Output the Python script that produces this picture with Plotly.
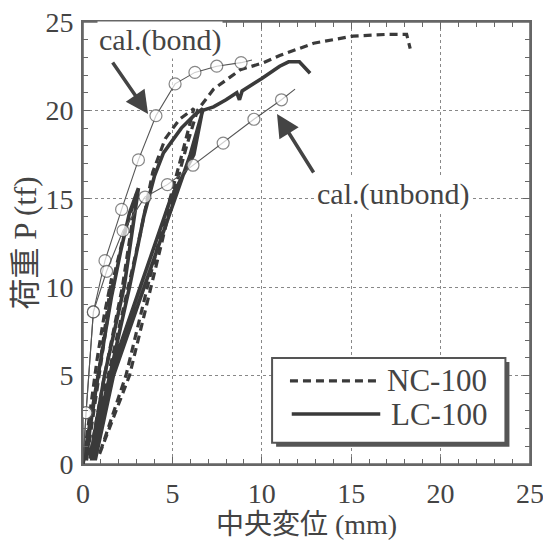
import plotly.graph_objects as go

# ---------------- data ----------------
# NC-100 (experimental, dashed) – cyclic load path
nc_x = [0, 0.4, 0.8, 1.2, 1.6, 1.0, 0.4, 0.2, 0.9, 1.7, 2.3, 3.0, 2.2, 1.2, 0.4,
        1.4, 2.5, 3.2, 3.9, 4.6, 5.4, 6.2, 5.4, 4.6, 3.6, 2.4, 0.9,
        2.6, 3.8, 5.0, 5.8, 6.4, 7.3, 8.8, 10.1, 11.0, 12.9, 15.1, 17.0, 18.1, 18.3]
nc_y = [0, 3.0, 6.0, 8.5, 10.5, 6.0, 2.0, 0.2, 5.0, 10.5, 13.0, 15.3, 10.0, 5.0, 0.5,
        5.0, 10.0, 13.0, 16.5, 18.4, 19.5, 20.1, 17.0, 14.0, 10.0, 5.0, 0.5,
        5.0, 10.0, 15.0, 18.0, 20.0, 21.2, 22.3, 22.7, 23.1, 23.8, 24.2, 24.3, 24.3, 23.5]

# LC-100 (experimental, solid) – cyclic load path
lc_x = [0, 0.5, 1.0, 1.6, 2.1, 2.6, 3.1, 2.3, 1.2, 0.4,
        1.5, 2.6, 3.4, 4.0, 4.5, 5.5, 6.2, 6.7, 6.2, 4.9, 3.2, 1.5, 0.5,
        0.7, 1.7, 3.4, 5.1, 6.0, 6.7, 7.3, 8.0, 8.6, 8.75, 8.9, 10.0, 11.0, 11.5, 12.1, 12.7]
lc_y = [0, 3.0, 6.0, 9.5, 12.0, 14.2, 15.6, 10.0, 5.0, 0.3,
        5.0, 10.0, 14.0, 16.3, 17.6, 19.0, 19.7, 20.1, 17.5, 15.0, 10.0, 5.0, 0.3,
        0.3, 5.0, 10.0, 15.0, 17.5, 20.0, 20.2, 20.6, 21.0, 20.6, 21.1, 21.8, 22.5, 22.75, 22.75, 22.1]

# calculation (bond) – circles on computed points, line runs to the last value
bond_x = [0, 0.17, 0.58, 1.23, 2.16, 3.1, 4.08, 5.15, 6.26, 7.48, 8.84, 9.45]
bond_y = [0, 2.9, 8.6, 11.5, 14.4, 17.2, 19.7, 21.5, 22.15, 22.5, 22.7, 22.85]
bond_marked = [False, True, True, True, True, True, True, True, True, True, True, False]

# calculation (unbond)
unbond_x = [0, 0.17, 0.58, 1.32, 2.24, 3.47, 4.72, 6.15, 7.84, 9.56, 11.1, 11.86]
unbond_y = [0, 2.9, 8.6, 10.9, 13.2, 15.1, 15.8, 16.9, 18.15, 19.5, 20.6, 21.2]
unbond_marked = [False, True, True, True, True, True, True, True, True, True, True, False]

tick_vals = [0, 5, 10, 15, 20, 25]
tick_text = ["0", "5", "10", "15", "20", "25"]
series_names = ["NC-100", "LC-100"]
x_title = "中央変位 (mm)"
y_title = "荷重 P (tf)"
bond_label = "cal.(bond)"
unbond_label = "cal.(unbond)"

# ---------------- style ----------------
INK = "#3a3a3a"
AXIS = "#666666"
TXT = "#444444"
FONT = "'Liberation Serif', 'Times New Roman', 'Noto Sans CJK JP', serif"

fig = go.Figure()

fig.add_trace(go.Scatter(x=nc_x, y=nc_y, mode="lines", name=series_names[0],
                         line=dict(color=INK, width=3.2, dash="8px,5px"),
                         showlegend=False))
fig.add_trace(go.Scatter(x=lc_x, y=lc_y, mode="lines", name=series_names[1],
                         line=dict(color=INK, width=3.6),
                         showlegend=False))

for xs, ys, marked, nm in [(bond_x, bond_y, bond_marked, bond_label),
                           (unbond_x, unbond_y, unbond_marked, unbond_label)]:
    fig.add_trace(go.Scatter(
        x=xs, y=ys, mode="lines+markers", name=nm, showlegend=False,
        line=dict(color="#555555", width=1.1),
        marker=dict(size=[12 if m else 0 for m in marked], color="white",
                    line=dict(color="#555555", width=1.2))))

# ---------------- axes ----------------
common = dict(range=[0, 25], tickvals=tick_vals, ticktext=tick_text,
              ticks="inside", ticklen=7, tickcolor=AXIS, tickwidth=1,
              showline=True, linecolor=AXIS, linewidth=1.6, mirror="ticks",
              showgrid=True, gridcolor="#888888", griddash="dot", gridwidth=1,
              zeroline=False, automargin=False, ticklabeloverflow="allow",
              tickfont=dict(family=FONT, size=28, color=TXT),
              minor=dict(dtick=1, ticks="inside", ticklen=5, tickcolor=AXIS,
                         tickwidth=1, showgrid=False))

fig.update_xaxes(**common, ticklabelstandoff=4,
                 title=dict(text=x_title, standoff=0,
                            font=dict(family=FONT, size=28, color=TXT)))
fig.update_yaxes(**common, ticklabelstandoff=2,
                 title=dict(text=y_title, standoff=6,
                            font=dict(family=FONT, size=31, color=TXT)))

# frame around the plotting area
fig.add_shape(type="rect", xref="paper", yref="paper", x0=0, x1=1, y0=0, y1=1,
              line=dict(color=AXIS, width=1.6), layer="below")

# ---------------- annotations: labels and arrows ----------------
fig.add_annotation(x=4.3, y=24.0, text=bond_label, showarrow=False,
                   font=dict(family=FONT, size=30, color=TXT),
                   bgcolor="white")
fig.add_annotation(x=17.35, y=15.3, text=unbond_label, showarrow=False,
                   font=dict(family=FONT, size=30, color=TXT),
                   bgcolor="white")
fig.add_annotation(x=3.64, y=19.8, ax=1.6, ay=22.8, xref="x", yref="y",
                   axref="x", ayref="y", text="", showarrow=True,
                   arrowhead=2, arrowsize=1.3, arrowwidth=3.5, arrowcolor=TXT)
fig.add_annotation(x=10.85, y=19.8, ax=12.95, ay=16.4, xref="x", yref="y",
                   axref="x", ayref="y", text="", showarrow=True,
                   arrowhead=2, arrowsize=1.3, arrowwidth=3.5, arrowcolor=TXT)

# ---------------- legend box (drawn) ----------------
bx0, bx1, by0, by1 = 0.423, 0.945, 0.048, 0.240
fig.add_shape(type="rect", xref="paper", yref="paper",
              x0=bx0 + 0.009, x1=bx1 + 0.009, y0=by0 - 0.009, y1=by1 - 0.009,
              fillcolor="#555555", line=dict(width=0))
fig.add_shape(type="rect", xref="paper", yref="paper",
              x0=bx0, x1=bx1, y0=by0, y1=by1,
              fillcolor="white", line=dict(color="#555555", width=2))
fig.add_shape(type="line", xref="paper", yref="paper",
              x0=0.463, x1=0.660, y0=0.188, y1=0.188,
              line=dict(color=INK, width=3.2, dash="8px,5px"))
fig.add_shape(type="line", xref="paper", yref="paper",
              x0=0.467, x1=0.665, y0=0.113, y1=0.113,
              line=dict(color=INK, width=3.6))
fig.add_annotation(xref="paper", yref="paper", x=0.675, y=0.188,
                   xanchor="left", yanchor="middle",
                   text=series_names[0], showarrow=False,
                   font=dict(family=FONT, size=31, color=TXT))
fig.add_annotation(xref="paper", yref="paper", x=0.685, y=0.113,
                   xanchor="left", yanchor="middle",
                   text=series_names[1], showarrow=False,
                   font=dict(family=FONT, size=31, color=TXT))

# page body has an 8px margin: shift plot area so it lands at x 83..530, y 22..464
fig.update_layout(width=551, height=541,
                  margin=dict(l=75, r=29, t=14, b=85),
                  paper_bgcolor="white", plot_bgcolor="white",
                  showlegend=False)

fig.write_html("out.html")
